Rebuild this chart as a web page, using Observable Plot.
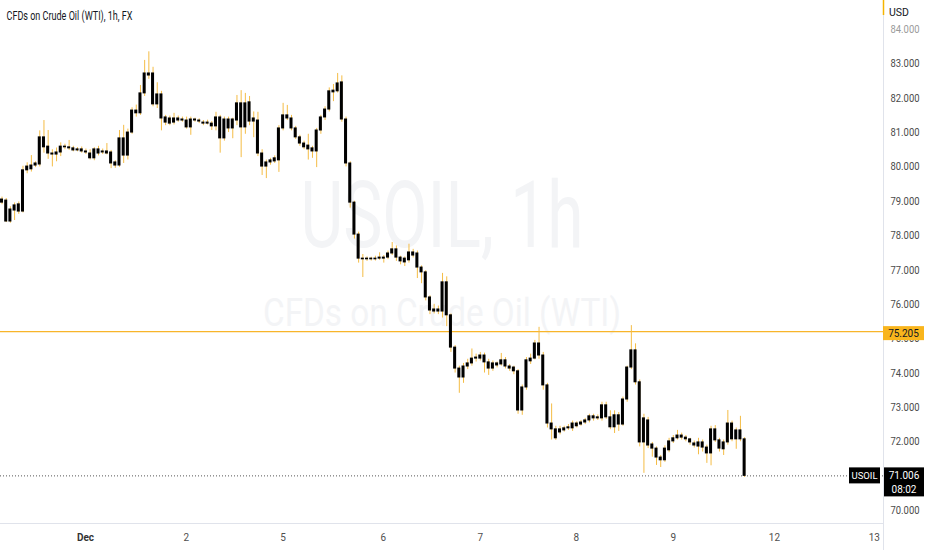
<!DOCTYPE html>
<html><head><meta charset="utf-8">
<script src="https://cdn.jsdelivr.net/npm/d3@7"></script>
<script src="https://cdn.jsdelivr.net/npm/@observablehq/plot@0.6"></script>
<style>body{margin:0;background:#fff;} svg{display:block}</style>
</head><body><div id="chart"></div>
<script>
const title = "CFDs on Crude Oil (WTI), 1h, FX";
const symbol = "USOIL";
const watermarkTop = "USOIL, 1h";
const watermarkBottom = "CFDs on Crude Oil (WTI)";
const currency = "USD";
const alertLevel = 75.205;
const lastPrice = 71.006;
const countdown = "08:02";

const opens = [78.96,79.02,78.41,78.73,78.91,78.70,79.90,79.93,80.04,80.07,
80.86,80.59,80.39,80.36,80.42,80.59,80.57,80.54,80.48,80.51,
80.45,80.39,80.25,80.51,80.42,80.45,80.42,80.13,80.04,80.83,
80.33,81.00,81.64,81.56,82.14,82.72,82.72,81.82,82.11,81.44,
81.26,81.41,81.35,81.38,81.35,81.15,81.38,81.35,81.29,81.26,
81.26,81.18,81.44,80.83,81.38,81.12,81.35,81.85,81.15,81.88,
81.32,81.35,80.39,80.01,80.13,80.16,80.19,81.12,81.50,81.41,
81.12,80.86,80.68,80.62,80.54,80.45,81.06,81.44,81.67,82.17,
82.20,82.46,81.38,80.10,78.96,78.03,77.33,77.31,77.33,77.31,
77.33,77.36,77.36,77.48,77.60,77.36,77.22,77.28,77.51,77.48,
77.07,76.93,76.20,75.85,75.79,75.79,76.64,75.68,74.74,74.13,
73.87,74.19,74.28,74.42,74.42,74.51,74.31,74.13,74.28,74.25,
74.37,74.19,74.16,74.05,72.91,73.58,74.34,74.42,74.86,74.51,
73.64,72.53,72.36,72.27,72.33,72.39,72.39,72.53,72.50,72.56,
72.62,72.74,72.68,72.68,73.06,72.71,72.42,72.77,72.50,73.23,
74.16,74.66,73.73,71.98,72.62,71.92,71.80,71.54,71.46,71.75,
72.01,72.10,72.18,72.12,72.07,71.89,71.98,71.83,71.83,71.66,
72.36,72.04,71.78,71.98,72.53,72.07,72.33,72.07];

const closes = [79.05,78.41,78.76,78.88,78.70,79.90,80.01,80.04,80.10,80.86,
80.57,80.39,80.36,80.42,80.59,80.57,80.54,80.48,80.51,80.45,
80.42,80.25,80.51,80.39,80.45,80.39,80.10,80.04,80.83,80.33,
81.00,81.64,81.56,82.14,82.72,82.66,81.82,82.11,81.41,81.29,
81.41,81.29,81.41,81.35,81.15,81.38,81.35,81.32,81.26,81.29,
81.18,81.44,80.83,81.38,81.12,81.38,81.85,81.15,81.85,81.32,
81.41,80.39,80.01,80.13,80.19,80.25,81.12,81.50,81.41,81.12,
80.86,80.68,80.57,80.51,80.45,81.06,81.44,81.67,82.20,82.22,
82.43,81.38,80.10,78.96,78.03,77.33,77.31,77.33,77.31,77.33,
77.36,77.33,77.48,77.60,77.36,77.25,77.33,77.51,77.42,77.07,
76.93,76.20,75.82,75.79,75.85,76.64,75.68,74.74,74.13,73.87,
74.19,74.28,74.42,74.45,74.51,74.31,74.13,74.28,74.22,74.37,
74.19,74.13,74.05,72.91,73.58,74.37,74.42,74.86,74.51,73.64,
72.53,72.36,72.10,72.36,72.39,72.42,72.53,72.45,72.56,72.62,
72.74,72.68,72.71,73.06,72.71,72.42,72.77,72.50,73.23,74.16,
74.66,73.73,71.98,72.68,71.89,71.80,71.54,71.46,71.80,72.01,
72.10,72.18,72.12,72.07,71.98,71.95,71.86,71.98,71.66,72.36,
72.04,71.80,71.98,72.53,72.07,72.33,72.07,71.006];

const highs = [79.12,79.08,78.84,78.95,78.98,80.02,80.12,80.33,80.15,81.05,
81.35,81.06,80.50,80.55,80.70,80.66,80.77,80.60,80.56,80.58,
80.52,80.50,80.56,80.60,80.52,80.68,80.48,80.18,81.06,81.21,
81.10,81.72,81.80,82.37,83.10,83.35,82.90,82.45,82.20,81.50,
81.48,81.56,81.48,81.45,81.45,81.45,81.42,81.40,81.35,81.36,
81.32,81.59,81.50,81.45,81.45,81.42,82.08,82.22,82.14,82.05,
81.60,81.59,80.50,80.20,80.25,80.32,81.20,81.85,81.79,81.50,
81.18,80.92,80.75,80.95,80.60,81.12,81.50,81.75,82.30,82.40,
82.72,82.65,81.45,80.15,79.00,78.10,77.45,77.38,77.37,77.40,
77.50,77.42,77.55,77.80,77.70,77.40,77.38,77.75,77.60,77.55,
77.12,76.98,76.25,76.00,75.95,76.90,76.80,75.72,74.80,74.20,
74.28,74.40,74.70,74.55,74.60,74.58,74.40,74.35,74.32,74.57,
74.45,74.25,74.20,74.10,73.65,74.45,74.55,74.95,75.33,74.60,
73.70,73.10,72.45,72.45,72.45,72.50,72.60,72.58,72.62,72.68,
72.80,72.80,72.78,73.15,73.15,72.90,72.90,72.85,73.30,74.20,
75.38,74.85,73.80,72.80,72.71,71.98,71.85,71.60,71.88,72.10,
72.18,72.33,72.25,72.18,72.10,72.02,72.10,72.05,71.90,72.45,
72.47,72.10,72.05,72.91,72.60,72.40,72.74,72.12];

const lows = [78.90,78.38,78.36,78.44,78.62,78.66,79.80,79.85,79.98,80.00,
80.40,80.22,80.00,80.15,80.30,80.50,80.48,80.44,80.44,80.40,
80.36,80.20,80.18,80.32,80.36,80.35,79.95,79.96,79.99,80.10,
80.20,80.95,81.45,81.50,82.05,82.55,81.75,81.70,81.05,81.20,
81.20,81.22,81.30,81.30,81.10,80.92,81.30,81.26,81.20,81.22,
81.06,81.05,80.40,80.75,81.00,80.82,81.20,80.27,80.95,81.20,
80.85,80.30,79.75,79.66,80.05,80.10,79.84,81.05,81.35,81.05,
80.80,80.60,80.50,80.20,80.25,79.98,80.95,81.35,81.60,81.90,
82.15,81.30,80.00,78.80,77.90,77.20,76.78,77.25,77.26,77.26,
77.28,77.20,77.30,77.42,77.25,77.15,77.10,77.20,77.35,76.75,
76.60,76.10,75.70,75.72,75.70,75.60,75.35,74.60,74.00,73.41,
73.70,74.10,74.20,74.32,74.35,74.00,73.93,74.05,74.15,74.20,
74.12,74.05,73.95,72.80,72.77,73.50,74.25,74.38,74.40,73.50,
72.40,72.05,72.04,72.20,72.28,72.33,72.30,72.40,72.45,72.50,
72.55,72.60,72.62,72.60,72.65,72.35,72.24,72.30,72.45,73.15,
74.10,73.65,71.85,71.08,71.80,71.55,71.31,71.25,71.40,71.68,
71.95,72.05,72.05,72.00,71.90,71.82,71.62,71.70,71.37,71.30,
71.98,71.70,71.60,71.90,72.00,71.78,72.00,70.96];

// bar index at which each day label sits, and its label
const dayTickIndex = [19.9, 43.9, 67.0, 90.9, 114.0, 136.9, 160.0, 184.1, 207.9];
const dayTickLabels = ["Dec", "2", "5", "6", "7", "8", "9", "12", "13"];
// price labels visible on the scale (71 is hidden behind the last-price tag)
const priceTicks = [70, 72, 73, 74, 75, 76, 77, 78, 79, 80, 81, 82, 83, 84];

const candles = closes.map((c, i) => ({i, open: opens[i], high: highs[i], low: lows[i], close: c}));

const FONT = "Roboto, 'Liberation Sans', sans-serif";
const chart = Plot.plot({
  width: 932, height: 550,
  marginTop: 0, marginLeft: 0, marginRight: 49, marginBottom: 27,
  style: {background: "#fff", fontFamily: FONT, fontSize: "11px", color: "#4a4a4a"},
  x: {domain: [-0.36, 210.1], axis: null, label: null},
  y: {domain: [69.62, 84.844], axis: null, label: null},
  marks: [
    Plot.text([watermarkTop], {frameAnchor: "middle", dy: -44, fontSize: 92, fill: "#f3f4f6", fontFamily: FONT}),
    Plot.text([watermarkBottom], {frameAnchor: "middle", dy: 52, fontSize: 38, fill: "#f3f4f6", fontFamily: FONT}),
    Plot.ruleY([alertLevel], {stroke: "#f8b52a", strokeWidth: 1.4}),
    Plot.ruleY([lastPrice], {stroke: "#555", strokeDasharray: "1,2"}),
    Plot.ruleX(candles, {x: "i", y1: "low", y2: "high", stroke: "#f4bc45", strokeWidth: 1}),
    Plot.rect(candles, {x1: d => d.i - 0.36, x2: d => d.i + 0.36, y1: "open", y2: "close", fill: "#000", insetTop: -0.5, insetBottom: -0.5}),
    Plot.axisY(priceTicks, {anchor: "right", label: null, tickSize: 0, tickPadding: 7, tickFormat: d3.format(".3f"), fill: "#4a4a4a", fontSize: 11}),
    Plot.axisX(dayTickIndex, {anchor: "bottom", label: null, tickSize: 0, tickPadding: 10, fontSize: 10, fill: "#4f4f4f",
      tickFormat: d => dayTickLabels[dayTickIndex.indexOf(d)]}),
    Plot.text([title], {frameAnchor: "top-left", dx: 6, dy: 11, textAnchor: "start", fontSize: 12, fill: "#131722"})
  ]
});
document.getElementById("chart").append(chart);

const svg = d3.select(chart);
const ys = chart.scale("y");
const xs = chart.scale("x");
const right = xs.range[1];
const bottom = ys.range[0];

function fit(text, len) {
  svg.selectAll("text").filter(function() { return this.textContent === text; })
    .attr("textLength", len).attr("lengthAdjust", "spacingAndGlyphs");
}
fit(title, 126);
fit(watermarkTop, 283);
fit(watermarkBottom, 358);
priceTicks.forEach(v => fit(d3.format(".3f")(v), 29));
svg.selectAll("text").filter(function() { return this.textContent === "84.000"; }).attr("fill", "#9a9a9a");
svg.selectAll("text").filter(function() { return this.textContent === "Dec"; }).attr("font-weight", "bold").attr("fill", "#333");

const overlay = svg.append("g").attr("font-family", FONT).attr("font-size", 11).attr("text-anchor", "middle");
// pane separators
overlay.append("line").attr("x1", right + 0.5).attr("x2", right + 0.5).attr("y1", 0).attr("y2", 550).attr("stroke", "#e0e3eb");
overlay.append("line").attr("x1", 0).attr("x2", right).attr("y1", bottom + 0.5).attr("y2", bottom + 0.5).attr("stroke", "#e0e3eb");
overlay.append("line").attr("x1", right + 0.5).attr("x2", right + 0.5).attr("y1", 0).attr("y2", 15).attr("stroke", "#f5b400").attr("stroke-width", 1.5);
overlay.append("text").attr("x", right + 16).attr("y", 16).attr("fill", "#131722").attr("font-size", 10.5).text(currency);

// alert price tag
const ya = ys.apply(alertLevel);
overlay.append("rect").attr("x", right).attr("y", ya - 5).attr("width", 41).attr("height", 14).attr("fill", "#f9b51c");
overlay.append("text").attr("x", right + 20.5).attr("y", ya + 2).attr("dy", "0.35em")
  .attr("fill", "#131722").attr("font-size", 10).text(alertLevel.toFixed(3));

// last price tags
const yl = ys.apply(lastPrice);
overlay.append("rect").attr("x", right - 34).attr("y", yl - 8).attr("width", 31).attr("height", 16).attr("fill", "#000");
overlay.append("text").attr("x", right - 18.5).attr("y", yl).attr("dy", "0.35em")
  .attr("fill", "#fff").attr("font-size", 9.5).text(symbol);
overlay.append("rect").attr("x", right + 1).attr("y", yl - 8).attr("width", 40).attr("height", 29).attr("fill", "#000");
overlay.append("text").attr("x", right + 21).attr("y", yl).attr("dy", "0.35em")
  .attr("fill", "#fff").attr("font-size", 10).text(lastPrice.toFixed(3));
overlay.append("text").attr("x", right + 21).attr("y", yl + 14).attr("dy", "0.35em")
  .attr("fill", "#fff").attr("font-size", 10).text(countdown);
</script>
</body></html>
